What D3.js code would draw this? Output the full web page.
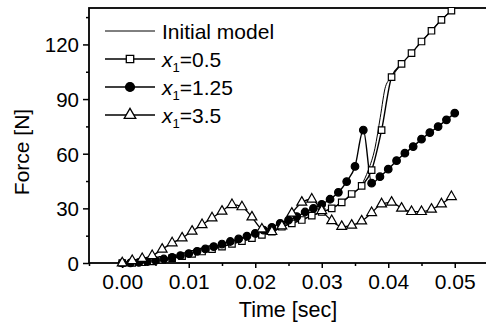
<!DOCTYPE html>
<html>
<head>
<meta charset="utf-8">
<script src="https://cdn.jsdelivr.net/npm/d3@7"></script>
<style>
    body { margin: 0; background: #fff; }
    text { font-family: "Liberation Sans", Arial, sans-serif; fill: #000; }
</style>
</head>
<body>
<div id="chart"></div>
<script>
// data
const timeSq = [0, 0.0015, 0.003, 0.0045, 0.006, 0.0075, 0.009, 0.0105, 0.012, 0.0135, 0.015, 0.0165,
    0.018, 0.0195, 0.021, 0.0225, 0.024, 0.0255, 0.027, 0.0285, 0.03, 0.0315, 0.033, 0.0345, 0.036,
    0.0375, 0.039, 0.0405, 0.042, 0.0435, 0.045, 0.0465, 0.048, 0.0495];
const forceSq = [0, 0.1, 0.4, 0.9, 1.7, 2.7, 3.8, 5, 6.3, 7.6, 9, 10.5, 12, 13.6, 15.4, 17.2, 19.9, 21.8,
    23.6, 26, 28, 30, 33.3, 37.9, 42.3, 51, 73, 102, 109.3, 115.2, 121.6, 127.5, 133.5, 138.5];

const timeInit = [0, 0.0015, 0.003, 0.0045, 0.006, 0.0075, 0.009, 0.0105, 0.012, 0.0135, 0.015, 0.0165,
    0.018, 0.0195, 0.021, 0.0225, 0.024, 0.0255, 0.027, 0.0285, 0.03, 0.0315, 0.033, 0.0345, 0.036,
    0.037, 0.038, 0.0388, 0.0396, 0.0405, 0.042, 0.0435, 0.045, 0.0465, 0.048, 0.0495];
const forceInit = [0, 0.1, 0.4, 0.9, 1.7, 2.7, 3.8, 5, 6.3, 7.6, 9, 10.5, 12, 13.6, 15.4, 17.2, 19.9, 21.8,
    23.6, 26, 28, 30, 33.3, 37.4, 43, 51, 63, 80, 97, 102, 109.3, 115.2, 121.6, 127.5, 133.5, 138.5];

const timeCirc = [0, 0.00125, 0.0025, 0.00375, 0.005, 0.00625, 0.0075, 0.00875, 0.01, 0.01125, 0.0125,
    0.01375, 0.015, 0.01625, 0.0175, 0.01875, 0.02, 0.02125, 0.0225, 0.02375, 0.025, 0.02625, 0.0275,
    0.02875, 0.03, 0.03125, 0.0325, 0.03375, 0.035, 0.03625, 0.0375, 0.03875, 0.04, 0.04125, 0.0425,
    0.04375, 0.045, 0.04625, 0.0475, 0.04875, 0.05];
const forceCirc = [0, 0.1, 0.3, 0.8, 1.4, 2.2, 3.1, 4.1, 5.2, 6.4, 7.7, 9, 10.4, 11.8, 13.2, 14.7, 16.3,
    18, 19.6, 21.8, 23.5, 25.5, 28, 30, 32.2, 35, 38.8, 44.7, 53, 73, 43.8, 47.4, 51.5, 56.2, 60.3, 63.9,
    68, 71.6, 74.9, 78.6, 82.3];

const timeTri = timeSq;
const forceTri = [0, 1.3, 2.4, 4, 7.5, 11, 13.7, 17.4, 21, 24.7, 28.4, 32, 30.8, 25.2, 18.6, 17.2, 20.3,
    27.3, 33.3, 35, 28.7, 23.2, 20, 20.7, 23, 27.6, 32.4, 33.3, 30, 28.2, 28.2, 29.5, 32.4, 36.4];

const xTicks = [0, 0.01, 0.02, 0.03, 0.04, 0.05];
const yTicks = [0, 30, 60, 90, 120];
const legendLabels = ["Initial model", "0.5", "1.25", "3.5"];

const W = 486, H = 323;
const svg = d3.select("#chart").append("svg")
    .attr("width", W)
    .attr("height", H);

const x = d3.scaleLinear().domain([-0.005, 0.055]).range([89, 488]);
const y = d3.scaleLinear().domain([0, 140]).range([263, 8]);

// frame
svg.append("rect")
    .attr("x", x(-0.005)).attr("y", y(140))
    .attr("width", x(0.055) - x(-0.005)).attr("height", y(0) - y(140))
    .attr("fill", "none").attr("stroke", "#000").attr("stroke-width", 1.8);

// axes
const xAxis = svg.append("g")
    .attr("transform", `translate(0, ${y(0)})`)
    .call(d3.axisBottom(x).tickValues(xTicks).tickFormat(d3.format(".2f")).tickSize(5).tickPadding(6));
svg.append("g")
    .attr("transform", `translate(0, ${y(0)})`)
    .call(d3.axisBottom(x).tickValues(d3.range(-0.005, 0.055, 0.01)).tickFormat("").tickSize(3));

const yAxis = svg.append("g")
    .attr("transform", `translate(${x(-0.005)}, 0)`)
    .call(d3.axisLeft(y).tickValues(yTicks).tickSize(6).tickPadding(4));
svg.append("g")
    .attr("transform", `translate(${x(-0.005)}, 0)`)
    .call(d3.axisLeft(y).tickValues([15, 45, 75, 105, 135]).tickFormat("").tickSize(3));

svg.selectAll(".domain").remove();
svg.selectAll(".tick line").attr("stroke", "#000").attr("stroke-width", 1.5);
xAxis.selectAll("text").attr("font-size", 21).attr("font-family", "Liberation Sans, Arial");
yAxis.selectAll("text").attr("font-size", 20.5).attr("font-family", "Liberation Sans, Arial").attr("dy", "0.36em");

svg.append("text")
    .attr("x", 288).attr("y", 317)
    .attr("text-anchor", "middle")
    .attr("font-size", 21.5)
    .text("Time [sec]");

svg.append("text")
    .attr("transform", "translate(29, 152) rotate(-90)")
    .attr("text-anchor", "middle")
    .attr("font-size", 21)
    .text("Force [N]");

// series
const line = d3.line()
    .x(d => x(d[0]))
    .y(d => y(d[1]))
    .curve(d3.curveMonotoneX);

const zip = (ts, fs) => ts.map((t, i) => [t, fs[i]]);

const series = [
    { data: zip(timeInit, forceInit), marker: null, width: 1 },
    { data: zip(timeSq, forceSq), marker: d3.symbolSquare, size: 42, fill: "#fff", width: 1.4 },
    { data: zip(timeCirc, forceCirc), marker: d3.symbolCircle, size: 45, fill: "#000", width: 1.4 },
    { data: zip(timeTri, forceTri), marker: d3.symbolTriangle, size: 42, fill: "#fff", width: 1.3 }
];

const plot = svg.append("g");

series.forEach(s => {
    plot.append("path")
        .datum(s.data)
        .attr("d", line)
        .attr("fill", "none")
        .attr("stroke", "#000")
        .attr("stroke-width", s.width);
});

series.forEach(s => {
    if (!s.marker) return;
    plot.selectAll(null)
        .data(s.data)
        .enter()
        .append("path")
        .attr("transform", d => `translate(${x(d[0])}, ${y(d[1])})`)
        .attr("d", d3.symbol(s.marker, s.size))
        .attr("fill", s.fill)
        .attr("stroke", "#000")
        .attr("stroke-width", 1.2);
});

// legend
const legend = svg.append("g");
const rowY = [31, 59, 87, 115];
const markerSizes = [0, 55, 62, 58];

legendLabels.forEach((lab, i) => {
    const g = legend.append("g").attr("transform", `translate(0, ${rowY[i]})`);
    g.append("line")
        .attr("x1", 105).attr("x2", 155)
        .attr("stroke", "#000")
        .attr("stroke-width", i === 0 ? 1 : 1.4);
    if (series[i].marker) {
        g.append("path")
            .attr("transform", "translate(130, 0)")
            .attr("d", d3.symbol(series[i].marker, markerSizes[i]))
            .attr("fill", series[i].fill)
            .attr("stroke", "#000")
            .attr("stroke-width", 1.3);
    }
    const t = g.append("text")
        .attr("x", 162).attr("y", 7.5)
        .attr("font-size", 21);
    if (i === 0) {
        t.text(lab);
    } else {
        t.append("tspan").attr("font-style", "italic").text("x");
        t.append("tspan").attr("font-size", 13).attr("dy", 5).text("1");
        t.append("tspan").attr("dy", -5).text("=" + lab);
    }
});
</script>
</body>
</html>
